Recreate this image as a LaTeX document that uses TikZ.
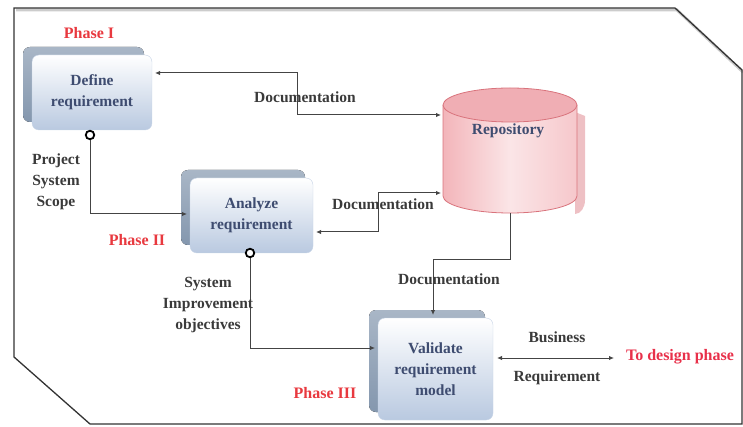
\documentclass[tikz,border=0pt]{standalone}
\usepackage{fontspec}
\setmainfont{Liberation Serif}
\usetikzlibrary{arrows.meta}
\definecolor{boxtxt}{HTML}{3E4C70}
\definecolor{lbltxt}{HTML}{3A3A3A}
\definecolor{phasered}{HTML}{E8393F}
\definecolor{designred}{HTML}{E8304A}
\definecolor{backblue}{HTML}{8497AE}
\definecolor{frontbot}{HTML}{B9C9E0}
\definecolor{repoedge}{HTML}{D9737C}
\definecolor{repofill}{HTML}{F3B5BA}
\definecolor{linecol}{HTML}{444444}
\tikzset{
  frontbox/.style={rounded corners=7pt, top color=white, bottom color=frontbot, draw=frontbot!80!white, line width=0.4pt,
    align=center, font=\fontsize{15.5}{21}\selectfont\bfseries, text=boxtxt},
  backbox/.style={rounded corners=7pt, top color=backblue!70!white, bottom color=backblue, draw=none},
  lbl/.style={font=\fontsize{15.5}{21}\selectfont\bfseries, text=lbltxt, align=center, inner sep=0pt},
  phase/.style={font=\fontsize{16}{19}\selectfont\bfseries, text=phasered, inner sep=0pt},
  conn/.style={draw=linecol, line width=1pt},
  tip/.style={-{Latex[length=5pt,width=4.5pt]}},
  both/.style={{Latex[length=5pt,width=4.5pt]}-{Latex[length=5pt,width=4.5pt]}},
  port/.style={circle, draw=black, line width=1.8pt, fill=white, minimum size=8.5pt, inner sep=0pt},
}
\begin{document}
\begin{tikzpicture}[x=1pt,y=-1pt]
\useasboundingbox (0,0) rectangle (743,427);
% frame
\draw[gray!40, line width=3pt] (16,10) -- (677,10) -- (743,72);
\draw[black!80, line width=1.3pt] (14,8) -- (675,8) -- (742,70) -- (742,424) -- (90,424) -- (14,357) -- cycle;

% boxes (back plates)
\fill[backbox] (23,47) rectangle (144,122);
\fill[backbox] (181,170) rectangle (305,245);
\fill[backbox] (369,310) rectangle (485,412);
% front boxes
\node[frontbox, minimum width=120pt, minimum height=75pt] (def) at (92,92.5) {Define\\requirement};
\node[frontbox, minimum width=123pt, minimum height=75pt] (ana) at (251.5,215.5) {Analyze\\requirement};
\node[frontbox, minimum width=115pt, minimum height=102pt] (val) at (435.5,369) {Validate\\requirement\\model};

% repository cylinder
\fill[repoedge!45!white] (575,112) -- (585,116) -- (585,200)
  arc[start angle=0,end angle=90,x radius=10,y radius=14] -- (575,214) -- cycle;
\shade[left color=repofill, right color=repofill!75!white, middle color=white!65!repofill]
  (443,105) -- (443,196) arc[start angle=180,end angle=0,x radius=67,y radius=17] -- (577,105) -- cycle;
\draw[repoedge, line width=0.8pt] (443,105) -- (443,196) arc[start angle=180,end angle=0,x radius=67,y radius=17] -- (577,105);
\fill[repofill!90!repoedge, draw=repoedge, line width=0.8pt] (510,105) ellipse[x radius=67, y radius=17];
\node[inner sep=0pt, minimum width=134pt, minimum height=125pt] (repo) at (510,150.5) {};
\node[font=\fontsize{15.5}{19}\selectfont\bfseries, text=boxtxt] (repotxt) at (508,131) {Repository};

% connection points
\coordinate (defE) at (155,73);
\coordinate (r1) at (441,115);
\coordinate (r2) at (441,193);
\coordinate (r3) at (510,213);
\coordinate (anaE) at (316,232);
\coordinate (anaW) at (187,214);
\coordinate (valN) at (433,315);
\coordinate (valW) at (375,348);
\coordinate (valE) at (497,358);
\coordinate (design) at (614,358);
\node[port] (p1) at (90,135) {};
\node[port] (p2) at (250,253) {};

% connectors
\draw[conn, both] (defE) -- (297,73) -- (297,115) -- (r1);
\draw[conn, both] (anaE) -- (378,232) -- (378,193) -- (r2);
\draw[conn, tip] (r3) -- (510,260) -- (433,260) -- (valN);
\draw[conn, tip] (p1) -- (90,214) -- (anaW);
\draw[conn, tip] (p2) -- (250,348) -- (valW);
\draw[conn, both] (valE) -- (design);

% labels
\node[lbl] (doc1) at (305,97) {Documentation};
\node[lbl] (doc2) at (383,204) {Documentation};
\node[lbl] (doc3) at (449,279) {Documentation};
\node[lbl] (pss) at (56,182) {Project\\System\\Scope};
\node[lbl] (sio) at (208,305) {System\\Improvement\\objectives};
\node[lbl] (bus) at (557,337) {Business};
\node[lbl] (req) at (557,378) {Requirement};
\node[phase] (ph1) at (89,33) {Phase I};
\node[phase] (ph2) at (137,240) {Phase II};
\node[phase] (ph3) at (325,393) {Phase III};
\node[phase, text=designred] (tdp) at (680,357) {To design phase};
\end{tikzpicture}
\end{document}
